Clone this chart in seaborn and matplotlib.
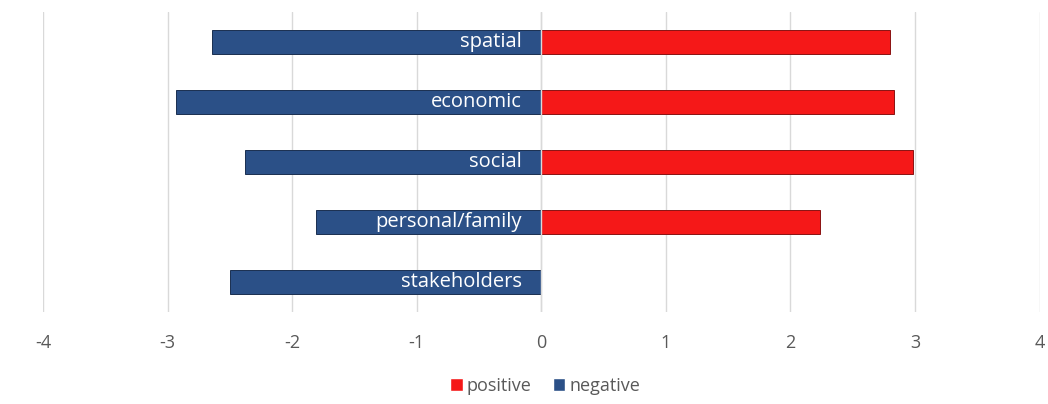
import matplotlib
matplotlib.use('Agg')
import matplotlib.pyplot as plt
import seaborn as sns
import pandas as pd
from matplotlib.patches import Patch

# values
categories = ['spatial', 'economic', 'social', 'personal/family', 'stakeholders']
positive = [2.80, 2.83, 2.98, 2.24, 0.0]
negative = [-2.64, -2.93, -2.38, -1.81, -2.50]
x_ticks = [-4, -3, -2, -1, 0, 1, 2, 3, 4]

red = '#f51818'
blue = '#2b5087'

df = pd.DataFrame({'category': categories, 'positive': positive, 'negative': negative})

sns.set_style('white')
plt.rcParams['font.family'] = ['Open Sans', 'DejaVu Sans']

fig = plt.figure(figsize=(10.48, 4.04), dpi=100)
ax = fig.add_axes([0.041, 0.228, 0.951, 0.742])

sns.barplot(data=df, y='category', x='positive', orient='h', color=red, saturation=1,
            width=0.39, edgecolor='#8a1212', linewidth=0.7, ax=ax, zorder=3)
sns.barplot(data=df, y='category', x='negative', orient='h', color=blue, saturation=1,
            width=0.39, edgecolor='#1a2f50', linewidth=0.7, ax=ax, zorder=3)

for i, name in enumerate(categories):
    ax.annotate(name, xy=(0, i), xytext=(-14, 0), textcoords='offset points',
                ha='right', va='center', color='white', fontsize=14.5, zorder=5)

ax.set_xlim(-4, 4)
ax.set_ylim(4.5, -0.5)
ax.set_xticks(x_ticks)
ax.set_xticklabels([str(t) for t in x_ticks], color='#595959', fontsize=13)
ax.set_yticks([])
ax.set_xlabel('')
ax.set_ylabel('')
ax.tick_params(axis='x', length=0, pad=16)
ax.grid(axis='x', color='#d9d9d9', linewidth=1, zorder=0)
ax.axvline(0, color='#d9d9d9', linewidth=1, zorder=4)
for s in ax.spines.values():
    s.set_visible(False)

handles = [Patch(facecolor=red, label='positive'), Patch(facecolor=blue, label='negative')]
fig.legend(handles=handles, loc='center', bbox_to_anchor=(0.52, 0.045), ncol=2,
           frameon=False, fontsize=13, handlelength=0.7, handleheight=0.7,
           handletextpad=0.2, columnspacing=1.2, labelcolor='#595959')

fig.savefig('out.png', dpi=100)
